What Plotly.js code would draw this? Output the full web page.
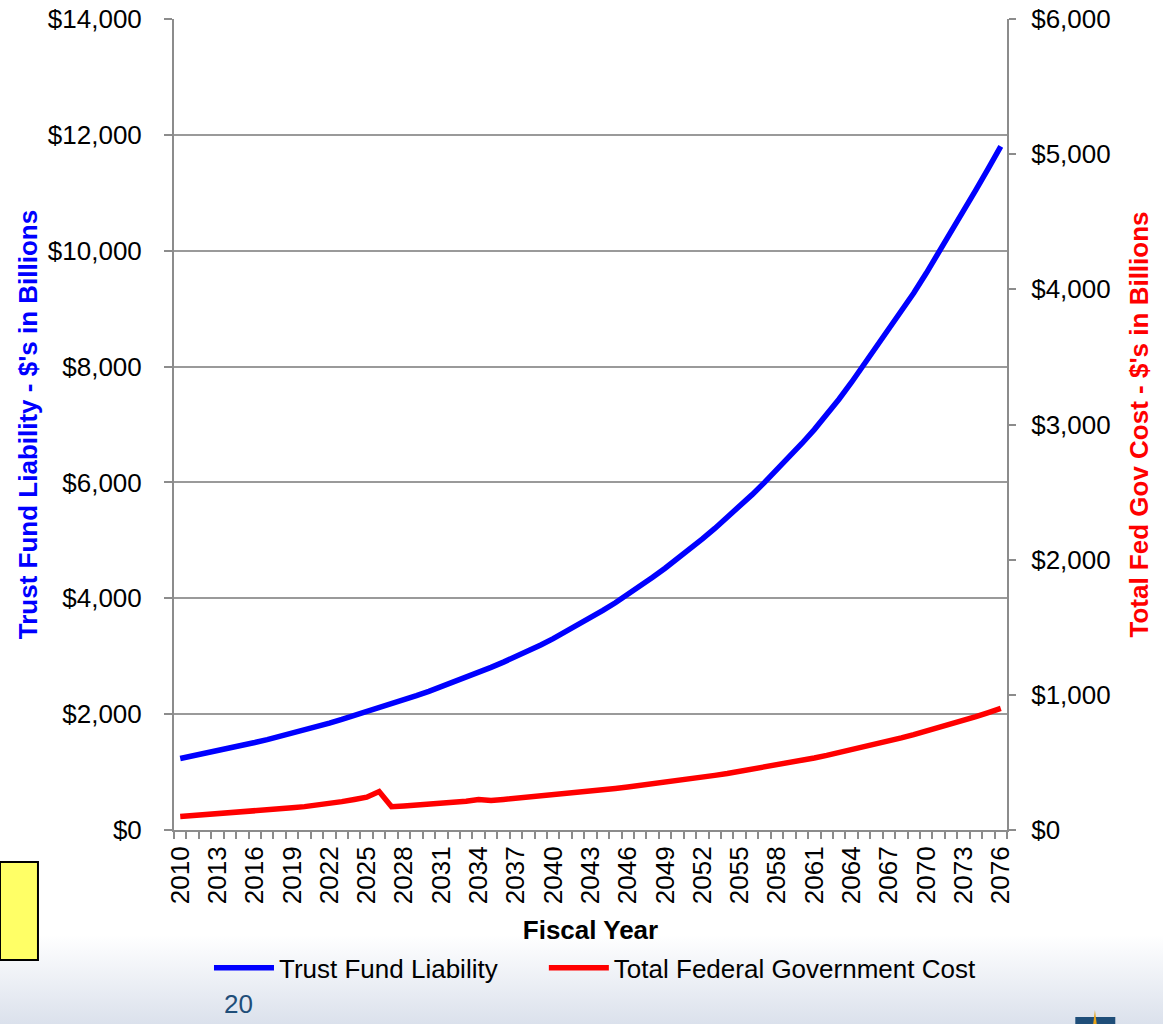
<!DOCTYPE html>
<html>
<head>
<meta charset="utf-8">
<script src="https://cdn.plot.ly/plotly-3.0.1.min.js"></script>
<style>
  html, body { margin:0; padding:0; }
  body { width:1163px; height:1024px; overflow:hidden;
         background: linear-gradient(to bottom, #ffffff 0px, #ffffff 935px, #dbe1ec 1024px); }
  #chart { width:1163px; height:1024px; position:absolute; left:0; top:0; }
</style>
</head>
<body>
<div id="chart"></div>
<script>
const years = [2010,2011,2012,2013,2014,2015,2016,2017,2018,2019,2020,2021,2022,2023,2024,2025,2026,2027,2028,2029,
  2030,2031,2032,2033,2034,2035,2036,2037,2038,2039,2040,2041,2042,2043,2044,2045,2046,2047,2048,2049,
  2050,2051,2052,2053,2054,2055,2056,2057,2058,2059,2060,2061,2062,2063,2064,2065,2066,2067,2068,2069,
  2070,2071,2072,2073,2074,2075,2076];

const trustFundLiability = [1235,1277,1320,1365,1412,1460,1510,1561,1614,1669,1726,1784,1845,1908,1973,2040,2106,2174,2245,2318,
  2393,2471,2551,2634,2719,2807,2898,2992,3089,3194,3303,3419,3538,3662,3790,3923,4064,4210,4362,4519,
  4682,4851,5025,5206,5394,5588,5789,6000,6216,6440,6672,6912,7161,7440,7730,8040,8330,8630,8940,9270,
  9610,9960,10320,10680,11050,11420,11800];

const totalFedGovCost = [100,106,112,119,126,133,140,148,156,164,173,182,195,210,226,243,284,172,178,184,
  190,197,204,212,225,218,226,234,242,250,259,268,277,287,297,307,318,329,340,352,
  364,377,390,404,418,433,448,464,480,497,515,533,552,572,592,613,635,658,681,705,
  730,756,782,810,839,869,900];

const xTickVals = [2010,2013,2016,2019,2022,2025,2028,2031,2034,2037,2040,2043,2046,2049,2052,2055,2058,2061,2064,2067,2070,2073,2076];
const xTickLabels = ['2010','2013','2016','2019','2022','2025','2028','2031','2034','2037','2040','2043','2046','2049','2052','2055','2058','2061','2064','2067','2070','2073','2076'];

const FONT = 'Arial, "Liberation Sans", sans-serif';
const AX = '#8c8c8c';

const traces = [
  { x: years, y: trustFundLiability, name: 'Trust Fund Liability', type: 'scatter', mode: 'lines',
    line: { color: '#0000ff', width: 5.5 }, yaxis: 'y', legend: 'legend' },
  { x: years, y: totalFedGovCost, name: 'Total Federal Government Cost', type: 'scatter', mode: 'lines',
    line: { color: '#ff0000', width: 5.5 }, yaxis: 'y2', legend: 'legend2' }
];

const legendBase = { orientation: 'h', xanchor: 'left', y: -0.17, yanchor: 'middle',
  font: { size: 26, family: FONT }, bgcolor: 'rgba(0,0,0,0)', itemwidth: 60 };

const layout = {
  width: 1163, height: 1024,
  margin: { l: 174, r: 156, t: 19, b: 194 },
  paper_bgcolor: 'rgba(0,0,0,0)', plot_bgcolor: 'rgba(0,0,0,0)',
  font: { family: FONT, size: 26, color: '#000' },
  showlegend: true,
  legend: Object.assign({}, legendBase, { x: 0.042 }),
  legend2: Object.assign({}, legendBase, { x: 0.444 }),
  xaxis: {
    range: [2009.5, 2076.5], tickmode: 'array', tickvals: xTickVals, ticktext: xTickLabels,
    tickangle: -90, ticks: '', showgrid: false, zeroline: false,
    showline: true, linecolor: AX, linewidth: 2, ticklabelstandoff: 4,
    tickfont: { size: 26, family: FONT },
    minor: { tickmode: 'linear', tick0: 2009.5, dtick: 1, ticks: 'outside', ticklen: 7, tickwidth: 2, tickcolor: AX, showgrid: false },
    title: { text: '<b>Fiscal Year</b>', font: { size: 26, family: FONT }, standoff: 18 }
  },
  yaxis: {
    range: [0, 14000], dtick: 2000, tick0: 0, tickprefix: '$', tickformat: ',d',
    showgrid: true, gridcolor: '#9a9a9a', gridwidth: 2, zeroline: false,
    showline: true, linecolor: AX, linewidth: 2, ticks: 'outside', ticklen: 8, tickwidth: 2, tickcolor: AX,
    ticklabelstandoff: 17, tickfont: { size: 26, family: FONT },
    title: { text: "<b>Trust Fund Liability - $'s in Billions</b>", font: { size: 26, family: FONT, color: '#0000ff' }, standoff: 3 }
  },
  yaxis2: {
    range: [0, 6000], dtick: 1000, tick0: 0, tickprefix: '$', tickformat: ',d',
    overlaying: 'y', side: 'right', showgrid: false, zeroline: false,
    showline: true, linecolor: AX, linewidth: 2, ticks: 'outside', ticklen: 7, tickwidth: 2, tickcolor: AX,
    ticklabelstandoff: 10, tickfont: { size: 26, family: FONT },
    title: { text: "<b>Total Fed Gov Cost - $'s in Billions</b>", font: { size: 26, family: FONT, color: '#ff0000' }, standoff: 20 }
  },
  shapes: [
    { type: 'rect', xref: 'paper', yref: 'paper', x0: -0.2089, x1: -0.1633, y0: -0.1603, y1: -0.0395,
      fillcolor: '#ffff66', line: { color: '#000', width: 2 }, layer: 'above' },
    { type: 'rect', xref: 'paper', yref: 'paper', x0: 1.082, x1: 1.130, y0: -0.2392, y1: -0.2306,
      fillcolor: '#1f4e79', line: { width: 0 } },
    { type: 'path', xref: 'paper', yref: 'paper',
      path: 'M 1.1035 -0.2392 L 1.1077 -0.2392 L 1.1056 -0.2220 Z',
      fillcolor: '#e8a317', line: { width: 0 } }
  ],
  annotations: [
    { text: '20', xref: 'paper', yref: 'paper', x: 0.0777, y: -0.2140, xanchor: 'center', yanchor: 'middle',
      showarrow: false, font: { size: 26, family: FONT, color: '#1f4e79' } }
  ]
};

Plotly.newPlot('chart', traces, layout, { displayModeBar: false, staticPlot: true });
</script>
</body>
</html>
